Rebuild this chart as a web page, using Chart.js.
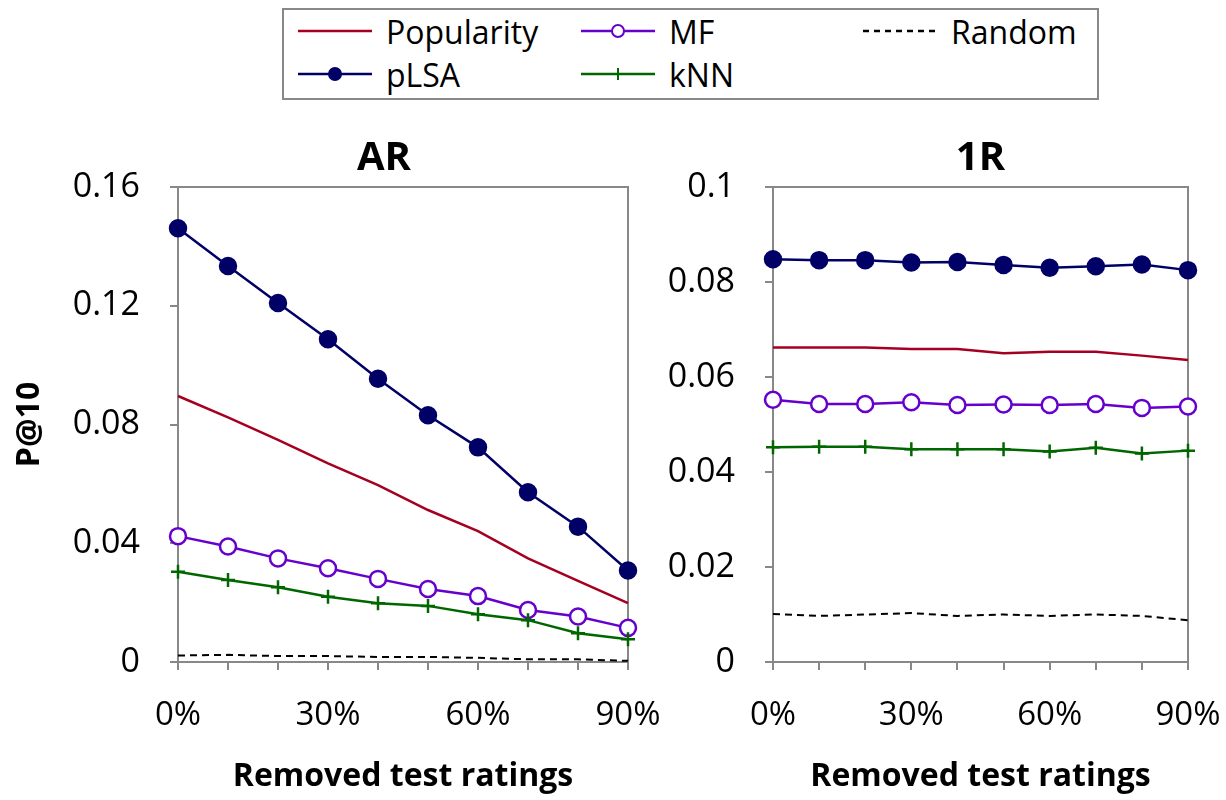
<!DOCTYPE html>
<html lang="en">
<head>
<meta charset="UTF-8">
<title>P@10 - AR / 1R</title>
<script src="https://cdn.jsdelivr.net/npm/chart.js"></script>
<style>
  body { margin: 0; background: #fff; font-family: "Open Sans", sans-serif; }
  #wrap { position: relative; width: 1226px; height: 800px; overflow: hidden; }
  #legend {
    position: absolute; left: 282px; top: 8px; width: 813px; height: 88px;
    border: 2px solid #888; background: #fff;
  }
  .item { position: absolute; display: flex; align-items: center; height: 40px; font-size: 32px; color: #000; }
  .item svg { margin-right: 14px; }
  #cAR { position: absolute; left: 0; top: 110px; }
  #c1R { position: absolute; left: 640px; top: 110px; }
</style>
</head>
<body>
<div id="wrap">
  <div id="legend"></div>
  <canvas id="cAR" width="690" height="690"></canvas>
  <canvas id="c1R" width="586" height="690"></canvas>
</div>
<script>
// x categories and which of them carry a label
const categories = ['0%', '10%', '20%', '30%', '40%', '50%', '60%', '70%', '80%', '90%'];
const shownTicks = ['0%', '30%', '60%', '90%'];
const seriesNames = ['Popularity', 'pLSA', 'MF', 'kNN', 'Random'];

// AR panel
const arPopularity = [0.0896, 0.0824, 0.0748, 0.0669, 0.0596, 0.0512, 0.0441, 0.0349, 0.0273, 0.0198];
const arPlsa       = [0.1461, 0.1334, 0.1209, 0.1087, 0.0954, 0.0831, 0.0723, 0.0572, 0.0456, 0.0308];
const arMf         = [0.0424, 0.0389, 0.0349, 0.0316, 0.0280, 0.0246, 0.0222, 0.0175, 0.0153, 0.0115];
const arKnn        = [0.0304, 0.0276, 0.0252, 0.0220, 0.0198, 0.0189, 0.0161, 0.0141, 0.0097, 0.0077];
const arRandom     = [0.0022, 0.0024, 0.0020, 0.0020, 0.0017, 0.0017, 0.0014, 0.0009, 0.0009, 0.0004];

// 1R panel
const r1Popularity = [0.0662, 0.0662, 0.0662, 0.0659, 0.0659, 0.0650, 0.0653, 0.0653, 0.0645, 0.0636];
const r1Plsa       = [0.0848, 0.0846, 0.0846, 0.0841, 0.0842, 0.0836, 0.0830, 0.0833, 0.0837, 0.0825];
const r1Mf         = [0.0552, 0.0543, 0.0543, 0.0547, 0.0541, 0.0542, 0.0541, 0.0543, 0.0535, 0.0538];
const r1Knn        = [0.0452, 0.0453, 0.0453, 0.0448, 0.0448, 0.0448, 0.0443, 0.0451, 0.0439, 0.0445];
const r1Random     = [0.0101, 0.0097, 0.0100, 0.0103, 0.0097, 0.0100, 0.0097, 0.0100, 0.0097, 0.0088];

const GRAY = '#888';
const FONT = '"Open Sans", sans-serif';

const styles = {
  Popularity: { color: '#A50021', pointStyle: false, radius: 0, fill: '#A50021', dash: [] },
  pLSA:       { color: '#000066', pointStyle: 'circle', radius: 8, fill: '#000066', dash: [] },
  MF:         { color: '#6600CC', pointStyle: 'circle', radius: 8, fill: '#ffffff', dash: [] },
  kNN:        { color: '#006600', pointStyle: 'cross', radius: 7, fill: '#006600', dash: [] },
  Random:     { color: '#000000', pointStyle: false, radius: 0, fill: '#000000', dash: [7, 5] }
};

function makeDatasets(values) {
  // draw order: Random at the back, pLSA on top
  const order = ['Random', 'kNN', 'MF', 'Popularity', 'pLSA'];
  return order.map(name => {
    const s = styles[name];
    return {
      label: name,
      data: values[name],
      borderColor: s.color,
      backgroundColor: s.fill,
      borderWidth: name === 'Random' ? 2 : 2.5,
      borderDash: s.dash,
      pointStyle: s.pointStyle,
      pointRadius: s.radius,
      pointBorderWidth: 2.5,
      pointBackgroundColor: s.fill,
      pointBorderColor: s.color,
      tension: 0,
      clip: false
    };
  });
}

// frame around the plot area + panel title
const framePlugin = {
  id: 'frame',
  beforeDatasetsDraw(chart, args, opts) {
    const a = chart.chartArea;
    const ctx = chart.ctx;
    ctx.save();
    ctx.strokeStyle = GRAY;
    ctx.lineWidth = 2;
    ctx.strokeRect(a.left, a.top, a.right - a.left, a.bottom - a.top);
    ctx.fillStyle = '#000';
    ctx.font = 'bold 40px ' + FONT;
    ctx.textAlign = 'center';
    ctx.textBaseline = 'alphabetic';
    ctx.fillText(opts.text, (a.left + a.right) / 2 + opts.shift, a.top - 17);
    ctx.restore();
  }
};

function makeChart(id, title, titleShift, values, yMax, yStep, yWidth, rightPad, showYTitle) {
  return new Chart(document.getElementById(id), {
    type: 'line',
    data: { labels: categories, datasets: makeDatasets(values) },
    plugins: [framePlugin],
    options: {
      responsive: false,
      animation: false,
      layout: { padding: { top: 77, right: rightPad, bottom: 0, left: 0 } },
      plugins: {
        legend: { display: false },
        tooltip: { enabled: false },
        frame: { text: title, shift: titleShift }
      },
      scales: {
        x: {
          type: 'category',
          offset: false,
          border: { color: GRAY, width: 2 },
          grid: { drawOnChartArea: false, drawTicks: true, tickLength: 8, color: GRAY, lineWidth: 2 },
          ticks: {
            autoSkip: false, maxRotation: 0, padding: 26, color: '#000',
            font: { family: FONT, size: 33 },
            callback: (v, i) => shownTicks.includes(categories[i]) ? categories[i] : ''
          },
          title: {
            display: true, text: 'Removed test ratings', color: '#000',
            font: { family: FONT, size: 32, weight: 'bold' },
            padding: { top: 0, bottom: 4 }
          },
          afterFit: s => { s.height = 138; s.paddingLeft = 0; s.paddingRight = 0; }
        },
        y: {
          min: 0, max: yMax,
          border: { color: GRAY, width: 2 },
          grid: { drawOnChartArea: false, drawTicks: true, tickLength: 8, color: GRAY, lineWidth: 2 },
          ticks: {
            stepSize: yStep, padding: 30, color: '#000', font: { family: FONT, size: 34 },
            callback: v => String(parseFloat(v.toFixed(2)))
          },
          title: {
            display: showYTitle, text: 'P@10', color: '#000',
            font: { family: FONT, size: 32, weight: 'bold' },
            padding: { top: 11, bottom: 0 }
          },
          afterFit: s => { s.width = yWidth; s.paddingTop = 0; s.paddingBottom = 0; }
        }
      }
    }
  });
}

makeChart('cAR', 'AR', -19,
  { Popularity: arPopularity, pLSA: arPlsa, MF: arMf, kNN: arKnn, Random: arRandom },
  0.16, 0.04, 178, 62, true);
makeChart('c1R', '1R', 0,
  { Popularity: r1Popularity, pLSA: r1Plsa, MF: r1Mf, kNN: r1Knn, Random: r1Random },
  0.1, 0.02, 133, 38, false);

// legend (two rows, three columns) built from the series names
const legendPos = {
  Popularity: [14, 1], MF: [297, 1], Random: [579, 1],
  pLSA: [14, 44], kNN: [297, 44]
};
function sampleSvg(name) {
  const s = styles[name];
  let marker = '';
  if (name === 'pLSA') marker = '<circle cx="37" cy="10" r="7" fill="' + s.color + '"/>';
  if (name === 'MF') marker = '<circle cx="37" cy="10" r="6" fill="#fff" stroke="' + s.color + '" stroke-width="2"/>';
  if (name === 'kNN') marker = '<path d="M37 4 V16" stroke="' + s.color + '" stroke-width="2"/>';
  const dash = s.dash.length ? ' stroke-dasharray="6 5"' : '';
  return '<svg width="74" height="20"><line x1="0" y1="10" x2="74" y2="10" stroke="' + s.color +
    '" stroke-width="2.5"' + dash + '/>' + marker + '</svg>';
}
const legend = document.getElementById('legend');
seriesNames.forEach(name => {
  const el = document.createElement('div');
  el.className = 'item';
  el.style.left = legendPos[name][0] + 'px';
  el.style.top = legendPos[name][1] + 'px';
  el.innerHTML = sampleSvg(name) + '<span>' + name + '</span>';
  legend.appendChild(el);
});
</script>
</body>
</html>
